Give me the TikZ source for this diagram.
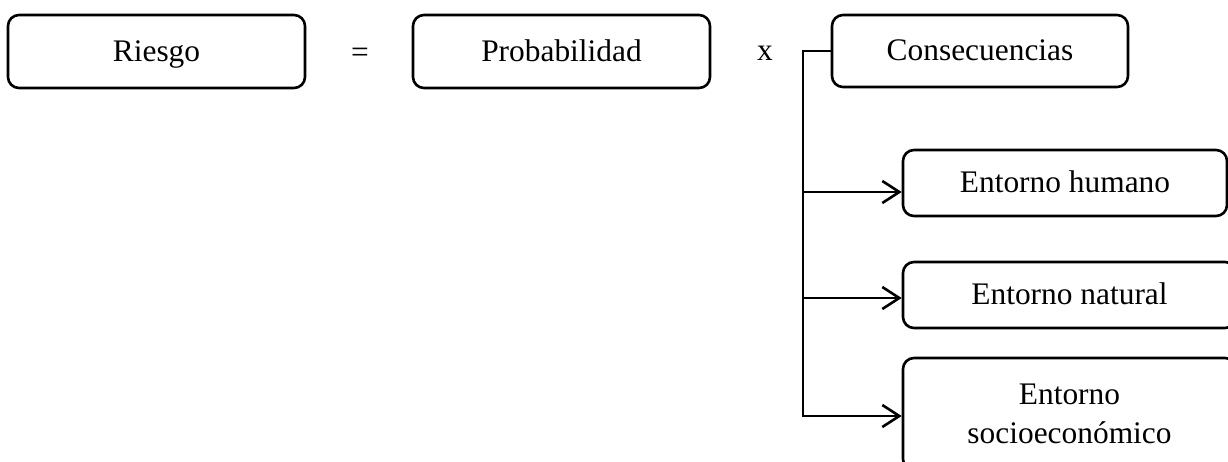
\documentclass[tikz,border=0pt]{standalone}
\usepackage{fontspec}
\setmainfont{Liberation Serif}
\usetikzlibrary{arrows.meta,calc}

\tikzset{
  box/.style={draw, line width=2.6pt, rounded corners=11pt, inner sep=0pt,
              align=center, font=\fontsize{31.4}{39}\selectfont},
  oneline/.style={text height=22pt, text depth=3pt},
  sign/.style={inner sep=0pt, font=\fontsize{31.4}{39}\selectfont},
  wire/.style={line width=2.6pt},
  feed/.style={line width=2.6pt, -{Straight Barb[length=17pt,width=22pt,line width=2.6pt]}}
}

\begin{document}
\begin{tikzpicture}[x=1pt,y=-1pt]
  \useasboundingbox (0,0) rectangle (1228,461);
  \fill[white] (0,0) rectangle (1228,461);
  \clip (0,0) rectangle (1228,461);

  % top row: Riesgo = Probabilidad x Consecuencias
  \node[box, oneline, minimum width=297pt, minimum height=73pt] (riesgo) at (156.5,51.5) {Riesgo};
  \node[sign] (eq) at (360,55) {=};
  \node[box, oneline, minimum width=297pt, minimum height=73pt] (prob) at (561.5,51.5) {Probabilidad};
  \node[sign] (times) at (765,53) {x};
  \node[box, oneline, minimum width=296pt, minimum height=72pt] (cons) at (980,51) {Consecuencias};

  % consequence categories
  \node[box, oneline, minimum width=324pt, minimum height=66pt] (hum) at (1065,183) {Entorno humano};
  \node[box, oneline, minimum width=333pt, minimum height=66pt] (nat) at (1069.5,295) {Entorno natural};
  \node[box, minimum width=333pt, minimum height=112pt] (soc) at (1069.5,414) {Entorno\\socioecon\'omico};

  % bracket spine
  \coordinate (top) at (803,51);
  \coordinate (bot) at (803,417);
  \draw[wire] (cons.west) -- (top) -- (bot);

  % branches into the categories
  \draw[feed] (top |- {$(hum.west)+(0,9)$}) -- ($(hum.west)+(0,9)$);
  \draw[feed] (top |- {$(nat.west)+(0,3)$}) -- ($(nat.west)+(0,3)$);
  \draw[feed] (top |- {$(soc.west)+(0,2)$}) -- ($(soc.west)+(0,2)$);
\end{tikzpicture}
\end{document}
